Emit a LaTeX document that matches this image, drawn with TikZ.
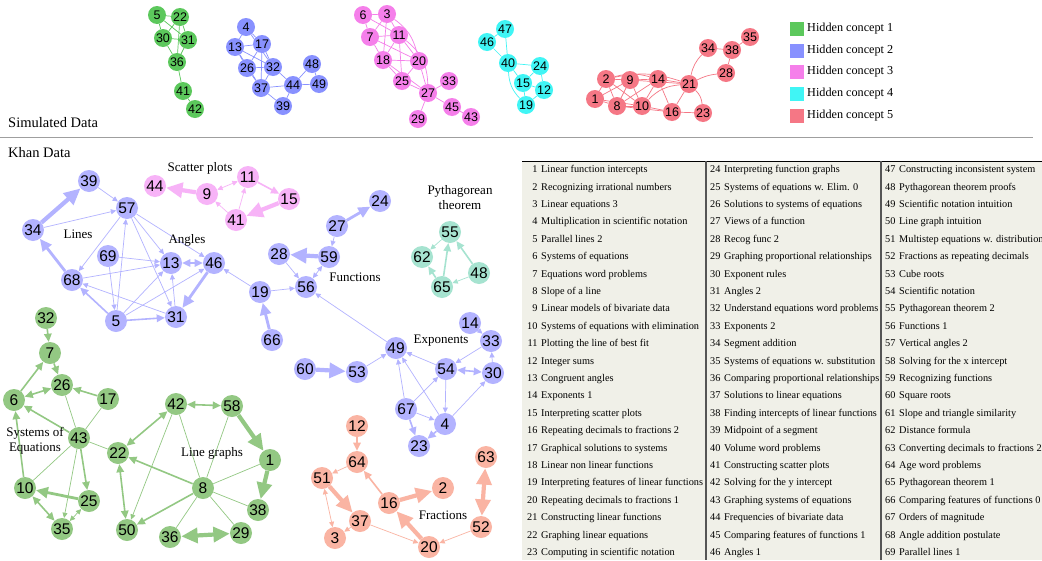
\documentclass[tikz,border=0pt]{standalone}
\usepackage{fontspec}
\setmainfont{Liberation Serif}
\newfontfamily\numfont{Liberation Sans}
\usetikzlibrary{arrows.meta}

\definecolor{simgreen}{HTML}{5CC85C}
\definecolor{simblue}{HTML}{8891FF}
\definecolor{simpink}{HTML}{F57FEA}
\definecolor{simcyan}{HTML}{40F5F5}
\definecolor{simred}{HTML}{F57785}
\definecolor{khanblue}{HTML}{B3B3FF}
\definecolor{khanpink}{HTML}{F7B3F7}
\definecolor{khanteal}{HTML}{A6E3D0}
\definecolor{khangreen}{HTML}{93C883}
\definecolor{khansalmon}{HTML}{FAB4A3}
\definecolor{tablebg}{HTML}{F0F0E8}
\definecolor{rulegray}{HTML}{555555}

\pgfdeclarelayer{paper}
\pgfdeclarelayer{edges}
\pgfsetlayers{paper,edges,main}

\begin{document}
\begin{tikzpicture}[x=1pt,y=-1pt,
  >={Triangle[length=3pt 3.2,width=3pt 2.8]},
  sim node/.style={circle,inner sep=0pt,minimum size=18pt,font=\numfont\fontsize{12.5}{12.5}\selectfont},
  khan node/.style={circle,inner sep=0pt,minimum size=22pt,font=\numfont\fontsize{15.5}{15.5}\selectfont},
  green sim/.style={sim node,fill=simgreen},
  blue sim/.style={sim node,fill=simblue},
  pink sim/.style={sim node,fill=simpink},
  cyan sim/.style={sim node,fill=simcyan},
  red sim/.style={sim node,fill=simred},
  blue khan/.style={khan node,fill=khanblue},
  pink khan/.style={khan node,fill=khanpink},
  teal khan/.style={khan node,fill=khanteal},
  green khan/.style={khan node,fill=khangreen},
  salmon khan/.style={khan node,fill=khansalmon},
  thin edge/.style={line width=0.7pt},
  mid edge/.style={line width=1.6pt},
  thick edge/.style={line width=2.8pt},
  heavy edge/.style={line width=4.2pt},
  group label/.style={font=\fontsize{13}{15}\selectfont,align=center},
  key box/.style={rectangle,minimum size=14pt,inner sep=0pt},
  key text/.style={font=\fontsize{12.2}{12.2}\selectfont,anchor=west,inner sep=0pt},
  title text/.style={font=\fontsize{14.5}{14.5}\selectfont,anchor=west,inner sep=0pt},
  table col/.style={anchor=north west,inner sep=0pt,font=\fontsize{10.3}{17.4}\selectfont}]

  \useasboundingbox (0,0) rectangle (1042,560);
  \begin{pgfonlayer}{paper}
    \fill[white] (0,0) rectangle (1042,560);
  \end{pgfonlayer}

  % simulated data
  \node[green sim] (s5) at (157,15) {5};
  \node[green sim] (s22) at (180,17) {22};
  \node[green sim] (s30) at (163,38) {30};
  \node[green sim] (s31) at (188,40) {31};
  \node[green sim] (s36) at (177,62) {36};
  \node[green sim] (s41) at (183,91) {41};
  \node[green sim] (s42) at (195,109) {42};

  \node[blue sim] (s4) at (246,27) {4};
  \node[blue sim] (s13) at (235,47) {13};
  \node[blue sim] (s17) at (262,44) {17};
  \node[blue sim] (s26) at (247,68) {26};
  \node[blue sim] (s32) at (273,67) {32};
  \node[blue sim] (s37) at (261,88) {37};
  \node[blue sim] (s44) at (293,85) {44};
  \node[blue sim] (s48) at (312,64) {48};
  \node[blue sim] (s49) at (319,84) {49};
  \node[blue sim] (s39) at (283,106) {39};

  \node[pink sim] (s6) at (363,15) {6};
  \node[pink sim] (s3) at (387,14) {3};
  \node[pink sim] (s7) at (370,37) {7};
  \node[pink sim] (s11) at (399,35) {11};
  \node[pink sim] (s18) at (383,60) {18};
  \node[pink sim] (s20) at (419,61) {20};
  \node[pink sim] (s25) at (402,81) {25};
  \node[pink sim] (s27) at (428,93) {27};
  \node[pink sim] (s33) at (449,81) {33};
  \node[pink sim] (s45) at (452,107) {45};
  \node[pink sim] (s43) at (471,117) {43};
  \node[pink sim] (s29) at (418,119) {29};

  \node[cyan sim] (s47) at (505,29) {47};
  \node[cyan sim] (s46) at (487,42) {46};
  \node[cyan sim] (s40) at (508,63) {40};
  \node[cyan sim] (s24) at (540,66) {24};
  \node[cyan sim] (s15) at (523,83) {15};
  \node[cyan sim] (s12) at (544,90) {12};
  \node[cyan sim] (s19) at (526,105) {19};

  \node[red sim] (s2) at (606,79) {2};
  \node[red sim] (s9) at (630,80) {9};
  \node[red sim] (s14) at (658,79) {14};
  \node[red sim] (s21) at (689,84) {21};
  \node[red sim] (s1) at (595,99) {1};
  \node[red sim] (s8) at (617,106) {8};
  \node[red sim] (s10) at (642,106) {10};
  \node[red sim] (s16) at (672,112) {16};
  \node[red sim] (s23) at (703,113) {23};
  \node[red sim] (s34) at (708,48) {34};
  \node[red sim] (s38) at (732,50) {38};
  \node[red sim] (s35) at (750,37) {35};
  \node[red sim] (s28) at (726,73) {28};

  \node[key box,fill=simgreen] (key1) at (797,29) {};
  \node[key box,fill=simblue] (key2) at (797,51) {};
  \node[key box,fill=simpink] (key3) at (797,72) {};
  \node[key box,fill=simcyan] (key4) at (797,94) {};
  \node[key box,fill=simred] (key5) at (797,116) {};
  \node[key text] at (807,29) {Hidden concept 1};
  \node[key text] at (807,51) {Hidden concept 2};
  \node[key text] at (807,72) {Hidden concept 3};
  \node[key text] at (807,94) {Hidden concept 4};
  \node[key text] at (807,116) {Hidden concept 5};

  \node[title text] (simtitle) at (8,123) {Simulated Data};
  \draw[gray!75,line width=0.8pt] (0,137) -- (1033,137);
  \node[title text] (khantitle) at (8,153) {Khan Data};

  % khan data
  \node[blue khan] (39) at (89,181) {39};
  \node[blue khan] (57) at (127,208) {57};
  \node[blue khan] (34) at (33,230) {34};
  \node[blue khan] (69) at (108,256) {69};
  \node[blue khan] (13) at (171,263) {13};
  \node[blue khan] (46) at (214,263) {46};
  \node[blue khan] (68) at (72,280) {68};
  \node[blue khan] (5) at (116,321) {5};
  \node[blue khan] (31) at (176,317) {31};
  \node[blue khan] (19) at (260,292) {19};
  \node[blue khan] (66) at (272,340) {66};
  \node[blue khan] (28) at (279,254) {28};
  \node[blue khan] (59) at (329,257) {59};
  \node[blue khan] (56) at (306,287) {56};
  \node[blue khan] (27) at (337,226) {27};
  \node[blue khan] (24) at (380,201) {24};
  \node[blue khan] (14) at (470,323) {14};
  \node[blue khan] (33) at (491,341) {33};
  \node[blue khan] (49) at (396,348) {49};
  \node[blue khan] (60) at (305,369) {60};
  \node[blue khan] (53) at (357,372) {53};
  \node[blue khan] (54) at (446,369) {54};
  \node[blue khan] (30) at (493,373) {30};
  \node[blue khan] (67) at (406,409) {67};
  \node[blue khan] (4) at (445,424) {4};
  \node[blue khan] (23) at (419,446) {23};

  \node[pink khan] (44) at (155,186) {44};
  \node[pink khan] (9) at (207,194) {9};
  \node[pink khan] (11) at (248,177) {11};
  \node[pink khan] (41) at (236,220) {41};
  \node[pink khan] (15) at (289,199) {15};

  \node[teal khan] (55) at (450,232) {55};
  \node[teal khan] (62) at (422,257) {62};
  \node[teal khan] (48) at (479,273) {48};
  \node[teal khan] (65) at (442,287) {65};

  \node[green khan] (32) at (46,318) {32};
  \node[green khan] (7) at (50,353) {7};
  \node[green khan] (26) at (62,385) {26};
  \node[green khan] (6) at (14,400) {6};
  \node[green khan] (17) at (108,399) {17};
  \node[green khan] (43) at (79,438) {43};
  \node[green khan] (22) at (118,453) {22};
  \node[green khan] (42) at (176,404) {42};
  \node[green khan] (58) at (232,406) {58};
  \node[green khan] (1) at (270,460) {1};
  \node[green khan] (8) at (203,488) {8};
  \node[green khan] (38) at (258,510) {38};
  \node[green khan] (10) at (25,488) {10};
  \node[green khan] (25) at (89,501) {25};
  \node[green khan] (35) at (62,529) {35};
  \node[green khan] (50) at (127,530) {50};
  \node[green khan] (36) at (170,537) {36};
  \node[green khan] (29) at (241,533) {29};

  \node[salmon khan] (12) at (357,426) {12};
  \node[salmon khan] (64) at (357,462) {64};
  \node[salmon khan] (51) at (322,478) {51};
  \node[salmon khan] (16) at (389,503) {16};
  \node[salmon khan] (2) at (443,488) {2};
  \node[salmon khan] (37) at (360,521) {37};
  \node[salmon khan] (3) at (335,538) {3};
  \node[salmon khan] (20) at (429,547) {20};
  \node[salmon khan] (63) at (486,457) {63};
  \node[salmon khan] (52) at (481,527) {52};

  \node[group label] (lines) at (78,234) {Lines};
  \node[group label] (angles) at (187,240) {Angles};
  \node[group label] (scatter) at (200,168) {Scatter plots};
  \node[group label] (functions) at (355,277) {Functions};
  \node[group label] (pyth) at (460,198) {Pythagorean\\theorem};
  \node[group label] (exponents) at (441,341) {Exponents};
  \node[group label] (systems) at (35,441) {Systems of\\Equations};
  \node[group label] (linegraphs) at (212,453) {Line graphs};
  \node[group label] (fractions) at (443,515) {Fractions};

  \begin{pgfonlayer}{edges}
  \begin{scope}[simgreen,thin edge]
    \draw (s5) to (s22); \draw (s5) to (s30); \draw (s5) to (s31);
    \draw (s22) to (s30); \draw (s22) to (s31); \draw (s22) to (s36);
    \draw (s30) to (s31); \draw (s30) to (s36); \draw (s31) to (s36);
    \draw (s36) to (s41); \draw (s41) to (s42);
  \end{scope}
  \begin{scope}[simblue,thin edge]
    \draw (s4) to (s13); \draw (s4) to (s17); \draw (s4) to (s32);
    \draw (s13) to (s17); \draw (s13) to (s26); \draw (s13) to (s32); \draw (s13) to (s37);
    \draw (s17) to (s26); \draw (s17) to (s32); \draw (s17) to (s37);
    \draw (s26) to (s32); \draw (s26) to (s37); \draw (s32) to (s37);
    \draw (s32) to (s44); \draw (s37) to (s44); \draw (s37) to (s39);
    \draw (s44) to (s39); \draw (s44) to (s48); \draw (s44) to (s49); \draw (s48) to (s49);
  \end{scope}
  \begin{scope}[simpink,thin edge]
    \draw (s6) to (s3); \draw (s6) to (s7); \draw (s6) to (s11);
    \draw (s3) to (s7); \draw (s3) to (s11); \draw (s3) to (s18);
    \draw (s3) to[bend left=20] (s20);
    \draw (s7) to (s11); \draw (s7) to (s18); \draw (s7) to (s20);
    \draw (s11) to (s18); \draw (s11) to (s20); \draw (s11) to (s25);
    \draw (s11) to[bend left=25] (s27);
    \draw (s18) to (s20); \draw (s18) to (s25); \draw (s18) to (s27);
    \draw (s20) to (s25); \draw (s20) to (s27); \draw (s25) to (s27);
    \draw (s27) to (s33); \draw (s27) to (s45); \draw (s27) to (s29); \draw (s45) to (s43);
  \end{scope}
  \begin{scope}[simcyan,thin edge]
    \draw (s46) to (s47); \draw (s46) to (s40); \draw (s47) to (s40);
    \draw (s40) to (s24); \draw (s40) to (s15); \draw (s40) to[bend right=20] (s19);
    \draw (s24) to (s15); \draw (s24) to (s12); \draw (s15) to (s12);
    \draw (s15) to (s19); \draw (s19) to (s12);
  \end{scope}
  \begin{scope}[simred,thin edge]
    \draw (s2) to (s9); \draw (s2) to[bend left=15] (s14); \draw (s2) to[bend left=15] (s21);
    \draw (s2) to (s1); \draw (s2) to (s8); \draw (s2) to (s10);
    \draw (s9) to (s14); \draw (s9) to (s8); \draw (s9) to (s10); \draw (s9) to (s21);
    \draw (s14) to (s21); \draw (s14) to (s10); \draw (s14) to (s8); \draw (s14) to (s16);
    \draw (s1) to (s8); \draw (s1) to (s10); \draw (s1) to (s9);
    \draw (s8) to (s10); \draw (s8) to (s16); \draw (s10) to (s16);
    \draw (s10) to[bend left=20] (s21);
    \draw (s16) to (s23); \draw (s16) to (s21); \draw (s21) to[bend left=20] (s23);
    \draw (s21) to[bend left=15] (s34); \draw (s21) to[bend left=10] (s28);
    \draw (s34) to (s38); \draw (s38) to (s35); \draw (s38) to (s28);
  \end{scope}

  \begin{scope}[khanblue]
    \draw [->,heavy edge] (34) to (39);
    \draw [->,heavy edge] (59) to (28);
    \draw [->,heavy edge] (60) to (53);
    \draw [->,thick edge] (68) to (34);
    \draw [->,thick edge] (46) to (31);
    \draw [->,thick edge] (66) to (19);
    \draw [->,thick edge] (27) to (24);
    \draw [->,mid edge] (5) to (68);
    \draw [->,mid edge] (5) to (31);
    \draw [->,mid edge] (67) to (23);
    \draw [->,mid edge] (4) to (23);
    \draw [<->,mid edge] (13) to (46);
    \draw [<->,mid edge] (54) to (30);
    \draw [->,thin edge] (39) to (57);
    \draw [->,thin edge] (34) to (57);
    \draw [->,thin edge] (57) to (68);
    \draw [->,thin edge] (5) to (57);
    \draw [->,thin edge] (57) to (13);
    \draw [->,thin edge] (57) to (31);
    \draw [->,thin edge] (57) to (46);
    \draw [->,thin edge] (69) to (13);
    \draw [->,thin edge] (69) to (5);
    \draw [->,thin edge] (68) to (13);
    \draw [->,thin edge] (31) to (68);
    \draw [->,thin edge] (5) to (13);
    \draw [->,thin edge] (5) to (46);
    \draw [->,thin edge] (31) to (13);
    \draw [->,thin edge] (19) to (46);
    \draw [->,thin edge] (19) to (56);
    \draw [->,thin edge] (28) to (56);
    \draw [<->,thin edge] (56) to (59);
    \draw [->,thin edge] (27) to (59);
    \draw [->,thin edge] (49) to (56);
    \draw [->,thin edge] (53) to (49);
    \draw [->,thin edge] (54) to (49);
    \draw [->,thin edge] (67) to (49);
    \draw [->,thin edge] (4) to (49);
    \draw [->,thin edge] (67) to (54);
    \draw [->,thin edge] (67) to (4);
    \draw [->,thin edge] (54) to (4);
    \draw [->,thin edge] (4) to (30);
    \draw [->,thin edge] (33) to (54);
    \draw [->,thin edge] (30) to (33);
    \draw [->,thin edge] (14) to (33);
  \end{scope}
  \begin{scope}[khanpink]
    \draw [->,heavy edge] (9) to (44);
    \draw [->,heavy edge] (15) to (41);
    \draw [->,mid edge] (11) to (15);
    \draw [<->,thin edge] (9) to (11);
    \draw [->,thin edge] (41) to (9);
    \draw [->,thin edge] (41) to (11);
  \end{scope}
  \begin{scope}[khanteal]
    \draw [->,thin edge] (55) to (62);
    \draw [->,thin edge] (48) to (65);
    \draw [->,mid edge] (65) to (55);
    \draw [->,mid edge] (48) to (55);
    \draw [->,mid edge] (65) to (62);
  \end{scope}
  \begin{scope}[khangreen]
    \draw [->,mid edge] (32) to (7);
    \draw [->,mid edge] (6) to (7);
    \draw [->,mid edge] (7) to (26);
    \draw [->,mid edge] (17) to (26);
    \draw [->,mid edge] (43) to (6);
    \draw [->,mid edge] (10) to (6);
    \draw [->,mid edge] (43) to (25);
    \draw [->,mid edge] (8) to (22);
    \draw [->,mid edge] (8) to (50);
    \draw [<->,mid edge] (6) to (26);
    \draw [<->,mid edge] (10) to (35);
    \draw [<->,mid edge] (22) to (42);
    \draw [<->,mid edge] (42) to (58);
    \draw [<->,mid edge] (22) to (50);
    \draw [->,thick edge] (25) to (10);
    \draw [->,heavy edge] (58) to (1);
    \draw [->,heavy edge] (1) to (38);
    \draw [<->,heavy edge] (36) to (29);
    \draw [->,thin edge] (43) to (35);
    \draw [->,thin edge] (42) to (50);
    \draw [<->,thin edge] (25) to (35);
    \draw [thin edge] (43) to (26);
    \draw [thin edge] (43) to (17);
    \draw [thin edge] (43) to (10);
    \draw [thin edge] (43) to (22);
    \draw [thin edge] (42) to (8);
    \draw [thin edge] (58) to (8);
    \draw [thin edge] (1) to (8);
    \draw [thin edge] (8) to (38);
    \draw [thin edge] (8) to (36);
    \draw [thin edge] (8) to (29);
  \end{scope}
  \begin{scope}[khansalmon]
    \draw [->,mid edge] (12) to (64);
    \draw [->,mid edge] (16) to (64);
    \draw [->,thin edge] (64) to (51);
    \draw [->,thin edge] (37) to (3);
    \draw [->,thin edge] (37) to (20);
    \draw [->,thin edge] (52) to (20);
    \draw [<->,thin edge] (51) to (3);
    \draw [->,heavy edge] (51) to (37);
    \draw [->,heavy edge] (16) to (2);
    \draw [->,heavy edge] (20) to (16);
    \draw [<->,heavy edge] (52) to (63);
  \end{scope}
  \end{pgfonlayer}

  % table of skills
  \fill[tablebg] (522,161) rectangle (1042,560);
  \draw[black,line width=0.9pt] (522,161) -- (1042,161);
  \draw[rulegray,line width=1.3pt] (706,161) -- (706,560);
  \draw[rulegray,line width=1.3pt] (881,161) -- (881,560);

  \node[table col] (col1) at (527,160.3) {\begin{tabular}{@{}r@{\hspace{3.7pt}}l@{}}
    1 & Linear function intercepts\\
    2 & Recognizing irrational numbers\\
    3 & Linear equations 3\\
    4 & Multiplication in scientific notation\\
    5 & Parallel lines 2\\
    6 & Systems of equations\\
    7 & Equations word problems\\
    8 & Slope of a line\\
    9 & Linear models of bivariate data\\
    10 & Systems of equations with elimination\\
    11 & Plotting the line of best fit\\
    12 & Integer sums\\
    13 & Congruent angles\\
    14 & Exponents 1\\
    15 & Interpreting scatter plots\\
    16 & Repeating decimals to fractions 2\\
    17 & Graphical solutions to systems\\
    18 & Linear non linear functions\\
    19 & Interpreting features of linear functions\\
    20 & Repeating decimals to fractions 1\\
    21 & Constructing linear functions\\
    22 & Graphing linear equations\\
    23 & Computing in scientific notation
  \end{tabular}};
  \node[table col] (col2) at (710,160.3) {\begin{tabular}{@{}r@{\hspace{3.7pt}}l@{}}
    24 & Interpreting function graphs\\
    25 & Systems of equations w. Elim. 0\\
    26 & Solutions to systems of equations\\
    27 & Views of a function\\
    28 & Recog func 2\\
    29 & Graphing proportional relationships\\
    30 & Exponent rules\\
    31 & Angles 2\\
    32 & Understand equations word problems\\
    33 & Exponents 2\\
    34 & Segment addition\\
    35 & Systems of equations w. substitution\\
    36 & Comparing proportional relationships\\
    37 & Solutions to linear equations\\
    38 & Finding intercepts of linear functions\\
    39 & Midpoint of a segment\\
    40 & Volume word problems\\
    41 & Constructing scatter plots\\
    42 & Solving for the y intercept\\
    43 & Graphing systems of equations\\
    44 & Frequencies of bivariate data\\
    45 & Comparing features of functions 1\\
    46 & Angles 1
  \end{tabular}};
  \node[table col] (col3) at (885,160.3) {\begin{tabular}{@{}r@{\hspace{3.7pt}}l@{}}
    47 & Constructing inconsistent system\\
    48 & Pythagorean theorem proofs\\
    49 & Scientific notation intuition\\
    50 & Line graph intuition\\
    51 & Multistep equations w. distribution\\
    52 & Fractions as repeating decimals\\
    53 & Cube roots\\
    54 & Scientific notation\\
    55 & Pythagorean theorem 2\\
    56 & Functions 1\\
    57 & Vertical angles 2\\
    58 & Solving for the x intercept\\
    59 & Recognizing functions\\
    60 & Square roots\\
    61 & Slope and triangle similarity\\
    62 & Distance formula\\
    63 & Converting decimals to fractions 2\\
    64 & Age word problems\\
    65 & Pythagorean theorem 1\\
    66 & Comparing features of functions 0\\
    67 & Orders of magnitude\\
    68 & Angle addition postulate\\
    69 & Parallel lines 1
  \end{tabular}};
\end{tikzpicture}
\end{document}
